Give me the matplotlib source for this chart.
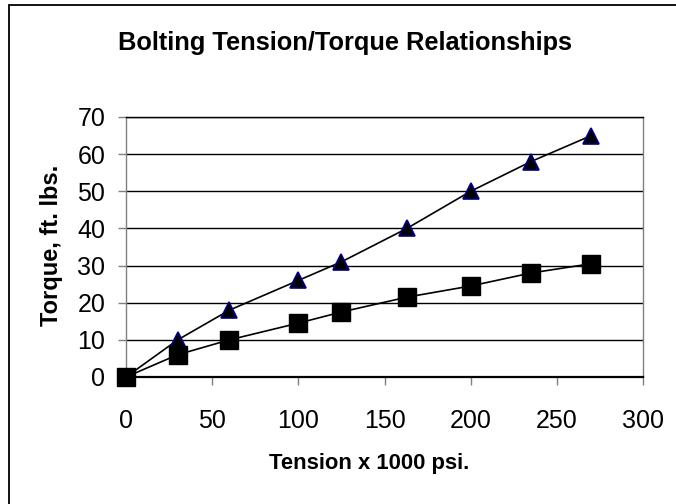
import matplotlib.pyplot as plt
import matplotlib.patches as patches

# Data
tension = [0, 30, 60, 100, 125, 163, 200, 235, 270]
torque_triangle = [0, 10, 18, 26, 31, 40, 50, 58, 65]
torque_square = [0, 6, 10, 14.5, 17.5, 21.5, 24.5, 28, 30.5]

x_ticks = [0, 50, 100, 150, 200, 250, 300]
y_ticks = [0, 10, 20, 30, 40, 50, 60, 70]

plt.rcParams['font.family'] = ['Liberation Sans', 'DejaVu Sans']

fig = plt.figure(figsize=(6.76, 5.04), dpi=100)
ax = fig.add_axes([126 / 676, 1 - 377 / 504, (643 - 126) / 676, (377 - 117) / 504])

# Outer chart border (only left and top visible in the crop)
fig.patches.append(patches.Rectangle((8.5 / 676, -0.1), 1.2, 1 - 5.5 / 504 + 0.1,
                                     transform=fig.transFigure, fill=False,
                                     edgecolor='black', linewidth=1.3))

# Gridlines
for y in y_ticks[1:]:
    ax.axhline(y, color='black', linewidth=1.0, zorder=1)

# Series
ax.plot(tension, torque_triangle, color='black', linewidth=1.2, zorder=2)
ax.plot(tension, torque_triangle, linestyle='none', marker='^', markersize=11,
        markerfacecolor='black', markeredgecolor='#000080', markeredgewidth=1.2,
        zorder=3, clip_on=False)
ax.plot(tension, torque_square, color='black', linewidth=1.2, zorder=2)
ax.plot(tension, torque_square, linestyle='none', marker='s', markersize=13,
        markerfacecolor='black', markeredgecolor='black', zorder=3, clip_on=False)

ax.set_xlim(0, 300)
ax.set_ylim(0, 70)
ax.set_xticks(x_ticks)
ax.set_yticks(y_ticks)
ax.tick_params(axis='x', direction='out', length=6, width=1, color='#808080',
               labelsize=18, pad=17)
ax.tick_params(axis='y', direction='out', length=6, width=1, color='#808080',
               labelsize=18, pad=9)

for side in ['left', 'right']:
    ax.spines[side].set_color('#808080')
    ax.spines[side].set_linewidth(1.0)
ax.spines['top'].set_color('black')
ax.spines['top'].set_linewidth(1.0)
ax.spines['bottom'].set_color('black')
ax.spines['bottom'].set_linewidth(1.6)

# Titles and labels
fig.text(345 / 676, 1 - 43 / 504, 'Bolting Tension/Torque Relationships',
         ha='center', va='center', fontsize=18.3, fontweight='bold')
fig.text(369 / 676, 1 - 464 / 504, 'Tension x 1000 psi.',
         ha='center', va='center', fontsize=15.8, fontweight='bold')
fig.text(52 / 676, 1 - 245 / 504, 'Torque, ft. lbs.',
         ha='center', va='center', fontsize=17, fontweight='bold', rotation=90)

plt.savefig('out.png', dpi=100)
